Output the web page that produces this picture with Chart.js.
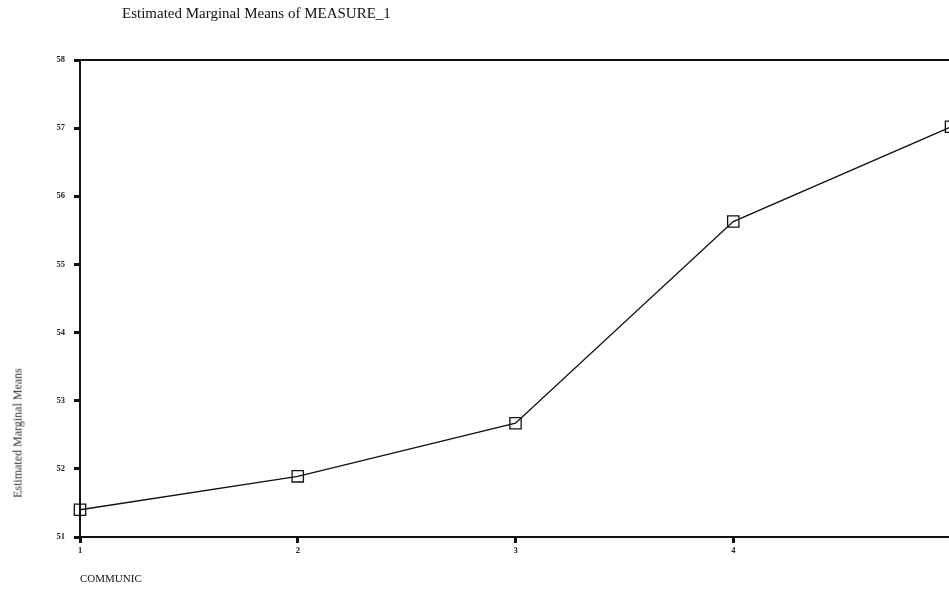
<!DOCTYPE html>
<html>
<head>
<meta charset="utf-8">
<script src="https://cdn.jsdelivr.net/npm/chart.js@4.4.0/dist/chart.umd.min.js"></script>
<style>
    html, body { margin: 0; padding: 0; background: #fff; overflow: hidden; }
    #wrap { position: relative; width: 949px; height: 608px; overflow: hidden; }
    #chartBox { position: absolute; left: 0; top: 0; width: 975px; height: 608px; }
    #titre { position: absolute; left: 122px; top: 5px; font: 15px "Liberation Serif", serif; color: #111; white-space: nowrap; }
    #xBaslik { position: absolute; left: 80px; top: 572px; font: 11px "Liberation Serif", serif; color: #111; }
    #yBaslik { position: absolute; left: 18px; top: 433px; font: 12px "Liberation Serif", serif; color: #333;
               white-space: nowrap; transform: translate(-50%, -50%) rotate(-90deg); }
</style>
</head>
<body>
<div id="wrap">
    <div id="chartBox"><canvas id="margGrafik"></canvas></div>
    <div id="titre">Estimated Marginal Means of MEASURE_1</div>
    <div id="yBaslik">Estimated Marginal Means</div>
    <div id="xBaslik">COMMUNIC</div>
</div>
<script>
// COMMUNIC seviyeleri ve tahmini marjinal ortalamalar
const communicLevels = [1, 2, 3, 4, 5];
const marginalMeans = [51.40, 51.89, 52.67, 55.63, 57.02];
const yTicks = [51, 52, 53, 54, 55, 56, 57, 58];

document.addEventListener('DOMContentLoaded', () => {
    const ctx = document.getElementById('margGrafik')?.getContext('2d');
    if (!ctx) {
        console.error('margGrafik elemanı bulunamadı!');
        return;
    }

    // grafik alanının üst kenar çizgisi
    const topBorder = {
        id: 'topBorder',
        afterDraw(chart) {
            const { ctx, chartArea } = chart;
            ctx.save();
            ctx.strokeStyle = '#111';
            ctx.lineWidth = 2;
            ctx.beginPath();
            ctx.moveTo(chartArea.left, chartArea.top);
            ctx.lineTo(chart.width, chartArea.top);
            ctx.stroke();
            ctx.restore();
        }
    };

    const tickFont = { family: 'Liberation Serif', size: 8.5, weight: 'bold' };

    new Chart(ctx, {
        type: 'line',
        data: {
            datasets: [{
                label: 'MEASURE_1',
                data: communicLevels.map((c, i) => ({ x: c, y: marginalMeans[i] })),
                borderColor: '#111',
                borderWidth: 1.4,
                tension: 0,
                fill: false,
                pointStyle: 'rect',
                pointRadius: 8,
                pointBorderWidth: 1.3,
                pointBorderColor: '#111',
                pointBackgroundColor: 'rgba(255,255,255,0)',
                clip: false,
            }],
        },
        options: {
            responsive: true,
            maintainAspectRatio: false,
            animation: false,
            layout: { padding: { top: 60, right: 24, left: 0, bottom: 0 } },
            plugins: {
                legend: { display: false },
                tooltip: { enabled: false },
            },
            scales: {
                x: {
                    type: 'linear',
                    min: 1,
                    max: 5,
                    afterFit(scale) { scale.height = 71; },
                    afterBuildTicks(scale) { scale.ticks = communicLevels.map(v => ({ value: v })); },
                    grid: { drawOnChartArea: false, tickLength: 6, tickWidth: 3, tickColor: '#111' },
                    border: { color: '#111', width: 2 },
                    ticks: { color: '#222', font: tickFont, padding: 3 },
                },
                y: {
                    min: 51,
                    max: 58,
                    afterFit(scale) { scale.width = 80; },
                    afterBuildTicks(scale) { scale.ticks = yTicks.map(v => ({ value: v })); },
                    grid: { drawOnChartArea: false, tickLength: 6, tickWidth: 3, tickColor: '#111' },
                    border: { color: '#111', width: 2 },
                    ticks: { color: '#222', font: tickFont, padding: 9 },
                },
            },
        },
        plugins: [topBorder],
    });
});
</script>
</body>
</html>
